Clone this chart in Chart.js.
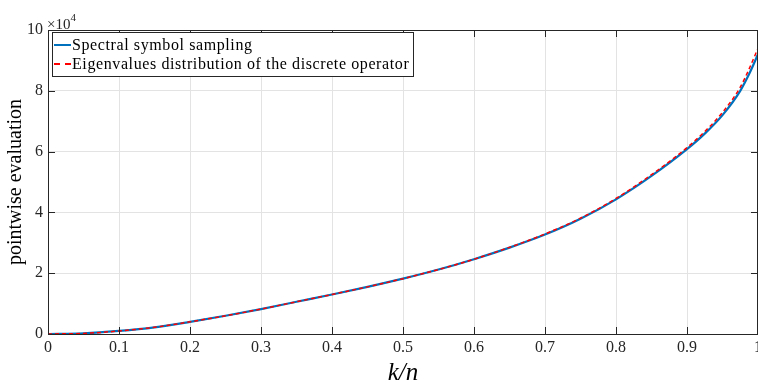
<!DOCTYPE html>
<html lang="en">
<head>
<meta charset="UTF-8">
<title>Pointwise evaluation</title>
<style>
    body {
        margin: 0;
        padding: 0;
        background: #ffffff;
        font-family: "Liberation Serif", serif;
    }

    #wrap {
        position: relative;
        width: 758px;
        height: 388px;
        overflow: hidden;
    }

    #exp {
        position: absolute;
        left: 47px;
        top: 11px;
        font-size: 15px;
        line-height: 16px;
        color: #262626;
    }

    #exp sup {
        font-size: 11px;
        position: relative;
        top: -2px;
    }

    .legend {
        position: absolute;
        left: 52px;
        top: 32px;
        width: 360px;
        height: 43px;
        border: 1px solid #262626;
        background: #ffffff;
        font-size: 16px;
        letter-spacing: 0.6px;
        color: #000000;
    }

    .legend .row {
        position: absolute;
        left: 1px;
        height: 20px;
        line-height: 20px;
        white-space: nowrap;
    }

    .legend .swatch {
        display: inline-block;
        width: 17px;
        vertical-align: middle;
        margin-right: 1px;
        position: relative;
        top: -1px;
    }
</style>
</head>
<body>
<div id="wrap">
    <canvas id="chart" width="758" height="388"></canvas>
    <div id="exp">&times;10<sup>4</sup></div>
    <div class="legend">
        <div class="row" style="top:2px"><span class="swatch" style="border-top:2px solid #0072BD"></span>Spectral symbol sampling</div>
        <div class="row" style="top:21px"><span class="swatch" style="border-top:2px dashed #FF0000"></span>Eigenvalues distribution of the discrete operator</div>
    </div>
</div>

<script src="https://cdn.jsdelivr.net/npm/chart.js"></script>
<script>
    // k/n positions and values (units of 1e4)
    var kn = [0, 0.05, 0.1, 0.15, 0.2, 0.25, 0.3, 0.35, 0.4, 0.45, 0.5, 0.55, 0.6, 0.65, 0.7, 0.75, 0.8, 0.85, 0.9, 0.925, 0.95, 0.975, 0.9875, 1.0];
    var symbolVals = [0, 0.02, 0.1, 0.22, 0.4, 0.6, 0.82, 1.06, 1.3, 1.55, 1.82, 2.12, 2.46, 2.84, 3.27, 3.79, 4.43, 5.2, 6.08, 6.59, 7.2, 8.0, 8.55, 9.2];
    var eigVals = [0, 0.02, 0.1, 0.22, 0.4, 0.6, 0.82, 1.06, 1.3, 1.55, 1.82, 2.12, 2.46, 2.85, 3.29, 3.81, 4.46, 5.24, 6.13, 6.66, 7.29, 8.12, 8.72, 9.4];
    var xTicks = [0, 0.1, 0.2, 0.3, 0.4, 0.5, 0.6, 0.7, 0.8, 0.9, 1];
    var yTicks = [0, 2, 4, 6, 8, 10];

    function toPoints(vals) {
        return vals.map(function (v, i) {
            return {x: kn[i], y: v * 1e4};
        });
    }

    var axisColor = '#262626';
    var gridColor = '#e3e3e3';
    var serif = '"Liberation Serif", serif';

    // box frame + inward tick marks, like a matlab axes
    var framePlugin = {
        id: 'frame',
        afterDraw: function (chart) {
            var ctx = chart.ctx;
            var a = chart.chartArea;
            var xs = chart.scales.x, ys = chart.scales.y;
            var len = 7;
            ctx.save();
            ctx.strokeStyle = axisColor;
            ctx.lineWidth = 1;
            ctx.strokeRect(a.left + 0.5, a.top + 0.5, a.right - a.left - 1, a.bottom - a.top);
            ctx.beginPath();
            xTicks.forEach(function (t) {
                var px = Math.round(xs.getPixelForValue(t)) + 0.5;
                ctx.moveTo(px, a.bottom);
                ctx.lineTo(px, a.bottom - len);
                ctx.moveTo(px, a.top);
                ctx.lineTo(px, a.top + len);
            });
            yTicks.forEach(function (t) {
                var py = Math.round(ys.getPixelForValue(t * 1e4)) + 0.5;
                ctx.moveTo(a.left, py);
                ctx.lineTo(a.left + len, py);
                ctx.moveTo(a.right, py);
                ctx.lineTo(a.right - len, py);
            });
            ctx.stroke();
            ctx.restore();
        }
    };

    var ctx = document.getElementById('chart').getContext('2d');
    new Chart(ctx, {
        type: 'line',
        data: {
            datasets: [{
                label: 'Eigenvalues distribution of the discrete operator',
                data: toPoints(eigVals),
                borderColor: '#FF0000',
                borderWidth: 1.5,
                borderDash: [4, 3],
                pointRadius: 0,
                cubicInterpolationMode: 'monotone',
                order: 0
            }, {
                label: 'Spectral symbol sampling',
                data: toPoints(symbolVals),
                borderColor: '#0072BD',
                borderWidth: 2.2,
                pointRadius: 0,
                cubicInterpolationMode: 'monotone',
                order: 1
            }]
        },
        options: {
            responsive: false,
            animation: false,
            layout: {padding: {top: 30, right: 0, left: 0, bottom: 0}},
            plugins: {
                legend: {display: false},
                tooltip: {enabled: false}
            },
            scales: {
                x: {
                    type: 'linear',
                    min: 0,
                    max: 1,
                    afterBuildTicks: function (scale) {
                        scale.ticks = xTicks.map(function (v) { return {value: v}; });
                    },
                    afterFit: function (scale) {
                        scale.height = 54;
                        scale.paddingLeft = 0;
                        scale.paddingRight = 0;
                    },
                    ticks: {
                        color: axisColor,
                        font: {family: serif, size: 16},
                        padding: 4,
                        maxRotation: 0,
                        autoSkip: false,
                        callback: function (v) { return String(v); }
                    },
                    grid: {color: gridColor, drawTicks: false},
                    border: {color: axisColor},
                    title: {
                        display: true,
                        text: 'k/n',
                        color: '#000000',
                        font: {family: serif, size: 25, style: 'italic'},
                        padding: {top: 0, bottom: 0}
                    }
                },
                y: {
                    type: 'linear',
                    min: 0,
                    max: 100000,
                    afterBuildTicks: function (scale) {
                        scale.ticks = yTicks.map(function (v) { return {value: v * 1e4}; });
                    },
                    afterFit: function (scale) {
                        scale.width = 48;
                        scale.paddingTop = 0;
                        scale.paddingBottom = 0;
                    },
                    ticks: {
                        color: axisColor,
                        font: {family: serif, size: 16},
                        padding: 5,
                        callback: function (v) { return String(v / 1e4); }
                    },
                    grid: {color: gridColor, drawTicks: false},
                    border: {color: axisColor},
                    title: {
                        display: true,
                        text: 'pointwise evaluation',
                        color: '#000000',
                        font: {family: serif, size: 20},
                        padding: {top: 4, bottom: 0}
                    }
                }
            }
        },
        plugins: [framePlugin]
    });
</script>
</body>
</html>
